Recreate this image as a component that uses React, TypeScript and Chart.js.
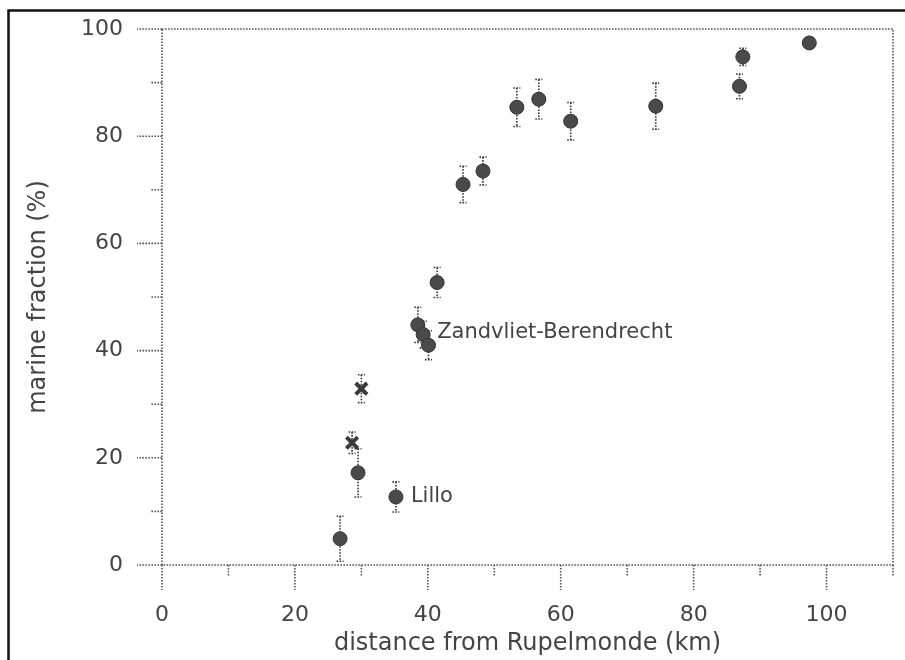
import React, { useEffect, useRef } from "react";
import { Chart, registerables } from "chart.js";

Chart.register(...registerables);

// ---- data ----
const circleX = [26.8, 29.5, 35.2, 38.5, 39.3, 40.1, 41.4, 45.3, 48.3, 53.4, 56.7, 61.5, 74.3, 86.9, 87.4, 97.4];
const circleY = [4.9, 17.2, 12.7, 44.8, 43.0, 41.0, 52.7, 71.0, 73.5, 85.4, 86.9, 82.8, 85.6, 89.3, 94.8, 97.4];
const circleErr = [4.2, 4.5, 2.8, 3.3, 2.5, 2.7, 2.8, 3.4, 2.6, 3.6, 3.7, 3.5, 4.3, 2.3, 1.6, 0];

const crossX = [28.6, 30.0];
const crossY = [22.8, 32.9];
const crossErr = [2.0, 2.6];

const labelTexts = ["Lillo", "Zandvliet-Berendrecht"];
const labelPointIndex = [2, 4];

const xTickValues = [0, 10, 20, 30, 40, 50, 60, 70, 80, 90, 100, 110];
const yTickValues = [0, 10, 20, 30, 40, 50, 60, 70, 80, 90, 100];

const xTitle = "distance from Rupelmonde (km)";
const yTitle = "marine fraction (%)";

const FONT = "'DejaVu Sans', sans-serif";
const TEXT = "#444";
const LINE = "#555";
const MARK = "#4a4a4a";

const dotted = (ctx: CanvasRenderingContext2D) => {
  ctx.strokeStyle = LINE;
  ctx.lineWidth = 1.6;
  ctx.setLineDash([1.6, 1.4]);
};

const decorPlugin = {
  id: "decor",
  beforeDatasetsDraw(chart: any) {
    const { ctx, chartArea: a, scales } = chart;
    const xs = scales.x;
    const ys = scales.y;
    ctx.save();
    dotted(ctx);
    // frame of the plot
    ctx.beginPath();
    ctx.rect(a.left, a.top, a.right - a.left, a.bottom - a.top);
    ctx.stroke();
    // x ticks
    xTickValues.forEach((v) => {
      const px = xs.getPixelForValue(v);
      const len = v % 20 === 0 ? 25 : 12;
      ctx.beginPath();
      ctx.moveTo(px, a.bottom);
      ctx.lineTo(px, a.bottom + len);
      ctx.stroke();
    });
    // y ticks
    yTickValues.forEach((v) => {
      const py = ys.getPixelForValue(v);
      const len = v % 20 === 0 ? 25 : 12;
      ctx.beginPath();
      ctx.moveTo(a.left, py);
      ctx.lineTo(a.left - len, py);
      ctx.stroke();
    });
    // error bars
    const bars = (X: number[], Y: number[], E: number[]) => {
      X.forEach((x, i) => {
        if (!E[i]) return;
        const px = xs.getPixelForValue(x);
        const t = ys.getPixelForValue(Y[i] + E[i]);
        const b = ys.getPixelForValue(Y[i] - E[i]);
        ctx.beginPath();
        ctx.moveTo(px, t);
        ctx.lineTo(px, b);
        ctx.moveTo(px - 3.5, t);
        ctx.lineTo(px + 3.5, t);
        ctx.moveTo(px - 3.5, b);
        ctx.lineTo(px + 3.5, b);
        ctx.stroke();
      });
    };
    ctx.strokeStyle = "#333";
    bars(circleX, circleY, circleErr);
    bars(crossX, crossY, crossErr);
    ctx.restore();
  },
  afterDatasetsDraw(chart: any) {
    const { ctx, scales } = chart;
    ctx.save();
    ctx.fillStyle = TEXT;
    ctx.font = `21px ${FONT}`;
    ctx.textBaseline = "middle";
    ctx.textAlign = "left";
    labelTexts.forEach((t, i) => {
      const k = labelPointIndex[i];
      const px = scales.x.getPixelForValue(circleX[k]);
      const py = scales.y.getPixelForValue(circleY[k]);
      ctx.fillText(t, px + (i === 0 ? 15 : 14), py - (i === 0 ? 0 : 2));
    });
    ctx.restore();
  },
  afterDraw(chart: any) {
    const { ctx } = chart;
    ctx.save();
    ctx.strokeStyle = "#111";
    ctx.lineWidth = 2.5;
    ctx.beginPath();
    ctx.moveTo(8.5, 700);
    ctx.lineTo(8.5, 10.5);
    ctx.lineTo(905, 10.5);
    ctx.stroke();
    ctx.restore();
  },
};

export default function App() {
  const ref = useRef<HTMLCanvasElement | null>(null);
  useEffect(() => {
    if (!ref.current) return;
    const chart = new Chart(ref.current, {
      type: "scatter",
      data: {
        datasets: [
          {
            label: "circles",
            data: circleX.map((x, i) => ({ x, y: circleY[i] })),
            pointStyle: "circle",
            pointRadius: 7,
            pointBackgroundColor: MARK,
            pointBorderColor: "#333",
            pointBorderWidth: 1,
          },
          {
            label: "crosses",
            data: crossX.map((x, i) => ({ x, y: crossY[i] })),
            pointStyle: "crossRot",
            pointRadius: 8,
            pointBorderColor: "#3a3a3a",
            pointBorderWidth: 4,
          },
        ],
      },
      options: {
        responsive: false,
        animation: false,
        layout: { padding: { top: 29, right: 10, left: 0, bottom: 0 } },
        plugins: { legend: { display: false }, tooltip: { enabled: false } },
        scales: {
          x: {
            type: "linear",
            min: 0,
            max: 110,
            afterFit: (s: any) => {
              s.height = 95;
            },
            ticks: {
              stepSize: 10,
              autoSkip: false,
              maxRotation: 0,
              padding: 12,
              color: TEXT,
              font: { family: FONT, size: 22 },
              callback: (v: any) => (v % 20 === 0 ? String(v) : ""),
            },
            grid: {
              display: true,
              drawOnChartArea: false,
              drawTicks: true,
              tickLength: 25,
              tickColor: "rgba(0,0,0,0)",
            },
            border: { display: false },
            title: {
              display: true,
              text: xTitle,
              color: TEXT,
              font: { family: FONT, size: 24 },
              padding: { top: 0, bottom: 2 },
            },
          },
          y: {
            type: "linear",
            min: 0,
            max: 100,
            afterFit: (s: any) => {
              s.width = 162;
            },
            ticks: {
              stepSize: 10,
              autoSkip: false,
              padding: 14,
              color: TEXT,
              font: { family: FONT, size: 22 },
              callback: (v: any) => (v % 20 === 0 ? String(v) : ""),
            },
            grid: {
              display: true,
              drawOnChartArea: false,
              drawTicks: true,
              tickLength: 25,
              tickColor: "rgba(0,0,0,0)",
            },
            border: { display: false },
            title: {
              display: true,
              text: yTitle,
              color: TEXT,
              font: { family: FONT, size: 24 },
              padding: { top: 24, bottom: 0 },
            },
          },
        },
      },
      plugins: [decorPlugin],
    });
    return () => chart.destroy();
  }, []);
  return (
    <div style={{ position: "fixed", left: 0, top: 0, width: 905, height: 660, background: "#fff" }}>
      <canvas ref={ref} width={905} height={660} style={{ display: "block" }} />
    </div>
  );
}
